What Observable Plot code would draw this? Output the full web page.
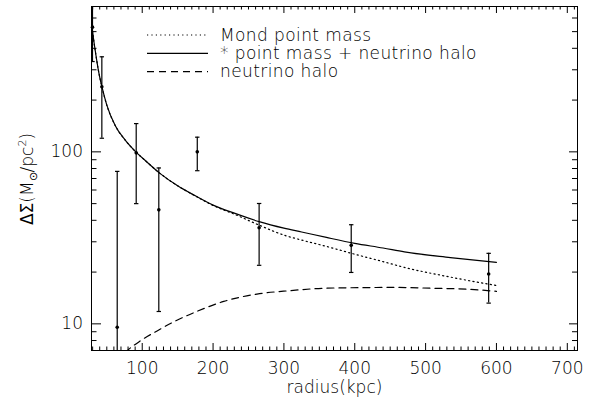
<!DOCTYPE html>
<html><head><meta charset="utf-8">
<script src="https://cdn.jsdelivr.net/npm/d3@7"></script>
<script src="https://cdn.jsdelivr.net/npm/@observablehq/plot@0.6"></script>
<style>body{margin:0;background:#fff}</style>
</head><body><div id="chart"></div>
<script>
// measured lensing points
const radius   = [29.8, 43, 64.7, 91.5, 123.4, 177.7, 265, 395, 589];
const sigma    = [531, 239, 9.55, 98.7, 46, 100, 36.2, 28.6, 19.5];
const sigmaHi  = [727, 357, 77, 146, 80.6, 121.7, 50.1, 37.7, 25.7];
const sigmaLo  = [335, 120, 1, 50, 11.8, 77.7, 21.9, 19.9, 13.2];

// * point mass + neutrino halo (solid)
const totalR = [29, 31, 34.5, 38, 43, 50, 62, 76, 92, 105, 125, 150, 175, 200, 230, 265, 300, 325, 360, 400, 440, 470, 535, 600];
const totalV = [535, 462, 368, 300, 240, 187, 142, 117, 99, 88.5, 75, 63.5, 55.5, 49, 44, 39.3, 36, 34.2, 31.8, 29.4, 27.6, 26.2, 24.3, 22.8];
// Mond point mass (dotted)
const mondR = [29, 31, 34.5, 38, 43, 50, 62, 76, 92, 105, 125, 150, 175, 200, 230, 265, 300, 325, 360, 400, 440, 470, 535, 600];
const mondV = [535, 462, 368, 300, 240, 187, 142, 117, 99, 88.5, 75, 63.5, 55.4, 48.8, 43.4, 37.5, 32.8, 30.7, 28.2, 25.4, 23, 21.3, 18.7, 16.7];
// neutrino halo (dashed)
const haloR = [76, 80, 98, 121, 149, 178, 215, 262, 309, 356, 418, 451, 512, 560, 600];
const haloV = [6.8, 7.05, 8.0, 9.1, 10.5, 11.85, 13.5, 14.9, 15.6, 16.1, 16.25, 16.3, 16.1, 15.9, 15.45];

// ticks
const xMajor = [100, 200, 300, 400, 500, 600, 700];
const xMinor = [30,40,50,60,70,80,90,110,120,130,140,150,160,170,180,190,210,220,230,240,250,260,270,280,290,310,320,330,340,350,360,370,380,390,410,420,430,440,450,460,470,480,490,510,520,530,540,550,560,570,580,590,610,620,630,640,650,660,670,680,690,710];
const yMajor = [10, 100];
const yMinor = [8, 9, 20, 30, 40, 50, 60, 70, 80, 90, 200, 300, 400, 500, 600];

const legendLabels = ["Mond point mass", "* point mass + neutrino halo", "neutrino halo"];
const legendDash = ["1.2,3.2", null, "7,5"];

const points = radius.map((r, i) => ({r, y: sigma[i], hi: sigmaHi[i], lo: sigmaLo[i]}));
const curve = (R, V) => R.map((r, i) => ({r, v: V[i]}));

const W = 594, H = 409, mL = 91, mR = 17, mT = 6, mB = 59;
const fw = W - mL - mR, fh = H - mT - mB;

const cap = {draw(ctx, size) { const w = Math.sqrt(size / Math.PI); ctx.moveTo(-w, 0); ctx.lineTo(w, 0); }};
const font = "DejaVu Sans";
const fs = 17;
const fwt = 200;

// inward ticks made from rules with insets
const tickB = (vals, len) => Plot.ruleX(vals, {x: d => d, insetTop: fh - len, stroke: "black", strokeWidth: 1});
const tickT = (vals, len) => Plot.ruleX(vals, {x: d => d, insetBottom: fh - len, stroke: "black", strokeWidth: 1});
const tickL = (vals, len) => Plot.ruleY(vals, {y: d => d, insetRight: fw - len, stroke: "black", strokeWidth: 1});
const tickR = (vals, len) => Plot.ruleY(vals, {y: d => d, insetLeft: fw - len, stroke: "black", strokeWidth: 1});

const chart = Plot.plot({
  width: W, height: H,
  marginLeft: mL, marginRight: mR, marginTop: mT, marginBottom: mB,
  style: {fontFamily: font, fontSize: fs + "px", fontWeight: fwt, background: "#fff", color: "black"},
  x: {domain: [28.4, 714.4], axis: null},
  y: {type: "log", domain: [7, 700], axis: null},
  marks: [
    tickB(xMajor, 7), tickB(xMinor, 3.5),
    tickT(xMajor, 7), tickT(xMinor, 3.5),
    tickL(yMajor, 10), tickL(yMinor, 5.5),
    tickR(yMajor, 8), tickR(yMinor, 5),
    Plot.text(xMajor, {x: d => d, frameAnchor: "bottom", dy: 23, text: d => String(d), fontSize: fs, fontWeight: fwt, fill: "black"}),
    Plot.text(yMajor, {y: d => d, frameAnchor: "left", dx: -8.5, textAnchor: "end", text: d => String(d), fontSize: fs, fontWeight: fwt, fill: "black"}),
    Plot.text(["radius(kpc)"], {frameAnchor: "bottom", dy: 42, text: d => d, fontSize: fs, fontWeight: fwt, fill: "black"}),
    Plot.line(curve(mondR, mondV), {x: "r", y: "v", stroke: "black", strokeWidth: 1.2, strokeDasharray: "1.2,3.2", curve: "monotone-x", clip: true}),
    Plot.line(curve(totalR, totalV), {x: "r", y: "v", stroke: "black", strokeWidth: 1.2, curve: "monotone-x", clip: true}),
    Plot.line(curve(haloR, haloV), {x: "r", y: "v", stroke: "black", strokeWidth: 1.2, strokeDasharray: "7,5", curve: "monotone-x", clip: true}),
    Plot.ruleX(points, {x: "r", y1: "lo", y2: "hi", stroke: "black", strokeWidth: 1.2, clip: true}),
    Plot.dot(points, {x: "r", y: "hi", r: 2.2, symbol: cap, stroke: "black", fill: "none", strokeWidth: 1.2, clip: true}),
    Plot.dot(points, {x: "r", y: "lo", r: 2.2, symbol: cap, stroke: "black", fill: "none", strokeWidth: 1.2, clip: true}),
    Plot.dot(points, {x: "r", y: "y", r: 1.8, fill: "black", stroke: "none"}),
    Plot.frame({stroke: "black", strokeWidth: 1})
  ]
});
document.getElementById("chart").appendChild(chart);

// legend inside the frame
const svg = d3.select(chart);
const lg = svg.append("g").attr("font-family", font).attr("font-size", fs).attr("font-weight", fwt).attr("fill", "black").attr("text-anchor", "start");
const rowY = [35, 53.3, 71.7];
legendLabels.forEach((label, i) => {
  lg.append("line").attr("x1", 147).attr("x2", 208).attr("y1", rowY[i]).attr("y2", rowY[i])
    .attr("stroke", "black").attr("stroke-width", 1.2)
    .attr("stroke-dasharray", legendDash[i]);
  lg.append("text").attr("x", 220).attr("y", rowY[i] + 5.5).attr("text-anchor", "start").attr("letter-spacing", 0.4).text(label);
});

// y-axis label with sub/superscript
const yl = svg.append("text").attr("transform", "translate(33,179) rotate(-90)")
  .attr("text-anchor", "middle").attr("font-family", font).attr("font-size", fs).attr("font-weight", fwt).attr("fill", "black");
yl.append("tspan").attr("font-weight", 400).text("ΔΣ");
yl.append("tspan").text("(M");
yl.append("tspan").attr("font-size", 11).attr("dy", 4).text("⊙");
yl.append("tspan").attr("dy", -4).text("/pc");
yl.append("tspan").attr("font-size", 11).attr("dy", -7).text("2");
yl.append("tspan").attr("dy", 7).text(")");
</script>
</body></html>
